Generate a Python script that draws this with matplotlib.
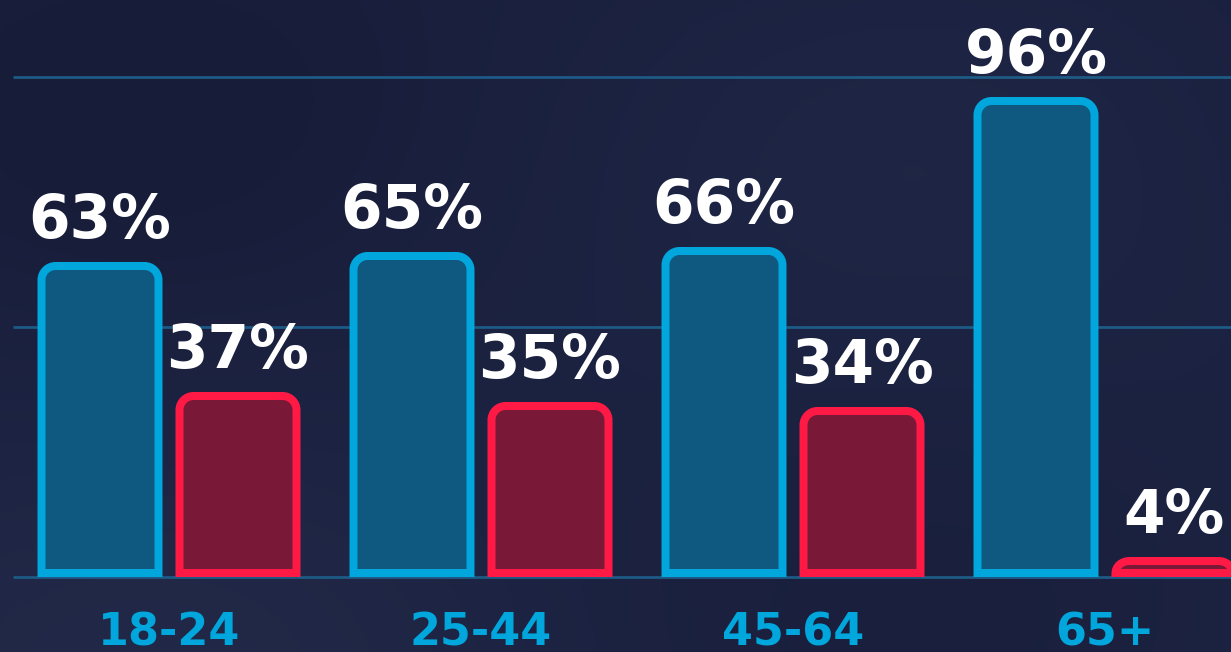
import numpy as np
import matplotlib
matplotlib.use("Agg")
import matplotlib.pyplot as plt
from matplotlib.path import Path
from matplotlib.patches import PathPatch

categories = ["18-24", "25-44", "45-64", "65+"]
blue_vals = [63, 65, 66, 96]
red_vals = [37, 35, 34, 4]

W, H = 1231, 652
fig = plt.figure(figsize=(W / 100, H / 100), dpi=100)
ax = fig.add_axes([0, 0, 1, 1])

# pixel <-> data scale: 312 px per category, 5 px per percent
px_x = 312.0
px_y = 5.0
xlim = (-169 / px_x, (W - 169) / px_x)
ylim = (-75 / px_y, (H - 75) / px_y)
ax.axis("off")

# soft navy background
yy, xx = np.mgrid[0:1:200j, 0:1:400j]
bg = 0.5 + 0.25 * np.sin(xx * 5 + 1) * np.cos(yy * 4) - 0.2 * yy
ax.imshow(bg, extent=[*xlim, *ylim], aspect="auto",
          cmap=matplotlib.colors.LinearSegmentedColormap.from_list(
              "bg", ["#161b36", "#1d2443", "#272e4c"]),
          vmin=0, vmax=1, zorder=0, origin="lower")
ax.set_xlim(*xlim)
ax.set_ylim(*ylim)

# gridlines
for g in [0, 50, 100]:
    ax.hlines(g, -0.5, 4, color="#1d5a86", lw=2, zorder=1)


def top_rounded(x0, x1, y0, y1, r_px):
    rx = r_px / px_x
    ry = min(r_px / px_y, (y1 - y0))
    k = 0.5523
    verts = [(x0, y0), (x0, y1 - ry),
             (x0, y1 - ry + k * ry), (x0 + rx - k * rx, y1), (x0 + rx, y1),
             (x1 - rx, y1),
             (x1 - rx + k * rx, y1), (x1, y1 - ry + k * ry), (x1, y1 - ry),
             (x1, y0), (x0, y0)]
    codes = [Path.MOVETO, Path.LINETO,
             Path.CURVE4, Path.CURVE4, Path.CURVE4,
             Path.LINETO,
             Path.CURVE4, Path.CURVE4, Path.CURVE4,
             Path.LINETO, Path.CLOSEPOLY]
    return Path(verts, codes)


lw_px = 8
half = lw_px / 2
bar_w = (125 - lw_px) / px_x
off = 69 / px_x
x = np.arange(len(categories))

for vals, dx, edge, face in [(blue_vals, -off, "#00a6dc", "#0f5980"),
                             (red_vals, off, "#ff1a45", "#7a1838")]:
    for xi, v in zip(x, vals):
        cx = xi + dx
        p = top_rounded(cx - bar_w / 2, cx + bar_w / 2,
                        half / px_y, v - half / px_y, 14)
        ax.add_patch(PathPatch(p, facecolor=face, edgecolor=edge,
                               lw=lw_px * 72 / 100, joinstyle="miter", zorder=3))
        ax.text(cx, v + 24 / px_y, f"{v}%", ha="center", va="baseline",
                color="white", fontsize=43, fontweight="bold", zorder=4)

for xi, c in zip(x, categories):
    ax.text(xi, -68 / px_y, c, ha="center", va="baseline",
            color="#00a6dc", fontsize=32, fontweight="bold", zorder=4)

fig.savefig("out.png", dpi=100)
